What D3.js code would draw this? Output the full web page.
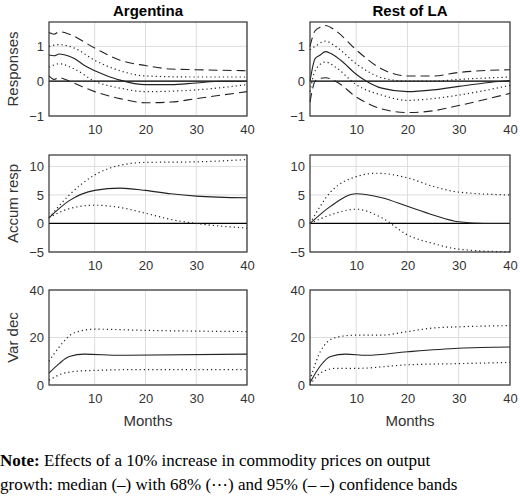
<!DOCTYPE html><html><head><meta charset="utf-8"><script src="https://cdn.jsdelivr.net/npm/d3@7"></script>
<style>body{margin:0;background:#fff}text{font-family:Arial,"Liberation Sans",sans-serif}text.serif{font-family:"Liberation Serif","Times New Roman",serif}</style></head><body>
<svg id="c" width="520" height="500"></svg>
<script>
const countries=["Argentina","Rest of LA"];
const rowLabels=["Responses","Accum resp","Var dec"];
const xTicks=[10,20,30,40];
const yTicks=[[-1,0,1],[-5,0,5,10],[0,20,40]];
const yDomains=[[-1,1.7],[-5,12],[0,40]];
const argResp={med:[[1,0.75],[2,0.73],[3,0.78],[4,0.76],[6,0.65],[8,0.45],[10,0.3],[12,0.18],[15,0.03],[20,-0.1],[25,-0.1],[30,-0.05],[35,0],[40,0]],
 u68:[[1,1.0],[3,1.05],[6,0.95],[10,0.6],[15,0.3],[20,0.15],[30,0.12],[40,0.12]],
 l68:[[1,0.4],[3,0.5],[6,0.35],[10,0.0],[15,-0.2],[20,-0.3],[30,-0.25],[40,-0.1]],
 u95:[[1,1.4],[2,1.35],[3,1.42],[5,1.35],[10,0.95],[15,0.6],[20,0.45],[25,0.35],[30,0.33],[40,0.3]],
 l95:[[1,0.15],[2,0.05],[3,0.1],[5,0.0],[10,-0.3],[15,-0.5],[20,-0.62],[25,-0.6],[30,-0.5],[40,-0.3]]};
const restResp={med:[[1,0.0],[2,0.65],[3,0.75],[4,0.85],[5,0.8],[7,0.6],[10,0.2],[12,0.0],[15,-0.2],[20,-0.3],[25,-0.25],[30,-0.15],[35,-0.05],[40,0.02]],
 u68:[[1,0.9],[2,1.0],[4,1.15],[6,1.0],[10,0.5],[15,0.1],[20,0.0],[25,0.0],[30,0.05],[40,0.12]],
 l68:[[1,-0.3],[2,0.3],[4,0.55],[6,0.4],[10,-0.1],[15,-0.4],[20,-0.55],[25,-0.5],[30,-0.4],[40,-0.12]],
 u95:[[1,1.0],[2,1.45],[3,1.55],[4,1.6],[6,1.45],[10,0.9],[15,0.35],[20,0.15],[25,0.15],[30,0.25],[40,0.33]],
 l95:[[1,-0.6],[2,0.0],[3,0.08],[4,0.1],[6,0.0],[10,-0.45],[15,-0.8],[20,-0.9],[25,-0.85],[30,-0.7],[40,-0.35]]};
const argAcc={med:[[1,1],[5,4.0],[10,5.8],[15,6.2],[20,5.8],[25,5.2],[30,4.8],[40,4.5]],
 u68:[[1,1],[5,5],[10,8.5],[15,10.2],[20,10.7],[30,10.8],[40,11.2]],
 l68:[[1,1],[5,2.6],[10,3.2],[15,2.8],[20,1.8],[25,0.7],[30,0],[40,-0.8]]};
const restAcc={med:[[1,0],[5,3],[10,5.2],[15,4.5],[20,3],[25,1.5],[30,0.3],[35,0],[40,0]],
 u68:[[1,0],[5,5.5],[10,8.2],[14,8.8],[20,8],[25,6.5],[30,5.5],[40,5]],
 l68:[[1,0],[5,1.5],[10,2.5],[15,1],[20,-2],[25,-3.5],[30,-4.5],[40,-5]]};
const argVar={med:[[1,5],[3,9],[5,12],[8,13],[15,12.5],[40,13]],
 u68:[[1,10],[3,16],[6,22],[10,23.5],[20,23],[40,22.5]],
 l68:[[1,2],[4,5],[8,6],[20,6.5],[40,6.5]]};
const restVar={med:[[1,1],[3,8],[5,12],[8,13],[12,12.5],[20,14],[30,15.5],[40,16]],
 u68:[[1,2],[3,14],[6,20],[10,21],[15,21],[20,22.5],[25,24],[30,24.5],[40,25]],
 l68:[[1,0],[3,5],[6,7],[10,7],[20,8.5],[30,9],[40,9.5]]};
const panels=[[argResp,restResp],[argAcc,restAcc],[argVar,restVar]];
const svg=d3.select("#c");
const colX=[[49,247],[310,510]], rowY=[[22,116],[155,252],[290,385]];
const styles={med:{d:null,w:1.1},u68:{d:"1.2,3",w:1.2},l68:{d:"1.2,3",w:1.2},u95:{d:"9,5",w:1.1},l95:{d:"9,5",w:1.1}};
countries.forEach((c,ci)=>{
  svg.append("text").attr("x",(colX[ci][0]+colX[ci][1])/2).attr("y",16).attr("text-anchor","middle").attr("font-weight","bold").attr("font-size",15).text(c);
  rowY.forEach((ry,ri)=>{
    const x=d3.scaleLinear().domain([1,40]).range(colX[ci]);
    const y=d3.scaleLinear().domain(yDomains[ri]).range([ry[1],ry[0]]);
    const g=svg.append("g");
    g.selectAll(".gx").data(xTicks).join("line").attr("x1",d=>x(d)).attr("x2",d=>x(d)).attr("y1",ry[0]).attr("y2",ry[1]).attr("stroke","#ddd");
    g.selectAll(".gy").data(yTicks[ri]).join("line").attr("x1",colX[ci][0]).attr("x2",colX[ci][1]).attr("y1",d=>y(d)).attr("y2",d=>y(d)).attr("stroke","#ddd");
    if(ri<2) g.append("line").attr("x1",colX[ci][0]).attr("x2",colX[ci][1]).attr("y1",y(0)).attr("y2",y(0)).attr("stroke","#000").attr("stroke-width",1.2);
    const line=d3.line().x(d=>x(d[0])).y(d=>y(d[1])).curve(d3.curveMonotoneX);
    const p=panels[ri][ci];
    Object.keys(p).forEach(k=>{
      g.append("path").attr("d",line(p[k])).attr("fill","none").attr("stroke","#222").attr("stroke-width",styles[k].w).attr("stroke-dasharray",styles[k].d);
    });
    g.append("rect").attr("x",colX[ci][0]).attr("y",ry[0]).attr("width",colX[ci][1]-colX[ci][0]).attr("height",ry[1]-ry[0]).attr("fill","none").attr("stroke","#333").attr("stroke-width",1.2);
    const ax=g.append("g").attr("transform",`translate(0,${ry[1]})`).call(d3.axisBottom(x).tickValues(xTicks).tickSize(0).tickPadding(9));
    const ay=g.append("g").attr("transform",`translate(${colX[ci][0]},0)`).call(d3.axisLeft(y).tickValues(yTicks[ri]).tickSize(0).tickFormat(d=>d<0?"\u2212"+(-d):d).tickPadding(5));
    [ax,ay].forEach(a=>{a.select(".domain").remove();a.selectAll("text").attr("font-size",13).attr("fill","#333").attr("font-family","Arial");});
    if(ci===0){
      svg.append("text").attr("transform",`translate(18,${(ry[0]+ry[1])/2}) rotate(-90)`).attr("text-anchor","middle").attr("font-size",15).attr("fill","#333").text(rowLabels[ri]);
    }
    if(ri===2) svg.append("text").attr("x",(colX[ci][0]+colX[ci][1])/2).attr("y",426).attr("text-anchor","middle").attr("font-size",15).attr("fill","#333").text("Months");
  });
});
const t1=svg.append("text").attr("class","serif").attr("x",0).attr("y",466).attr("font-size",17);
t1.append("tspan").attr("font-weight","bold").text("Note:");
t1.append("tspan").text(" Effects of a 10% increase in commodity prices on output");
svg.append("text").attr("class","serif").attr("x",0).attr("y",490).attr("font-size",17).text("growth: median (\u2013) with 68% (\u22EF) and 95% (\u2013 \u2013) confidence bands");
</script></body></html>
